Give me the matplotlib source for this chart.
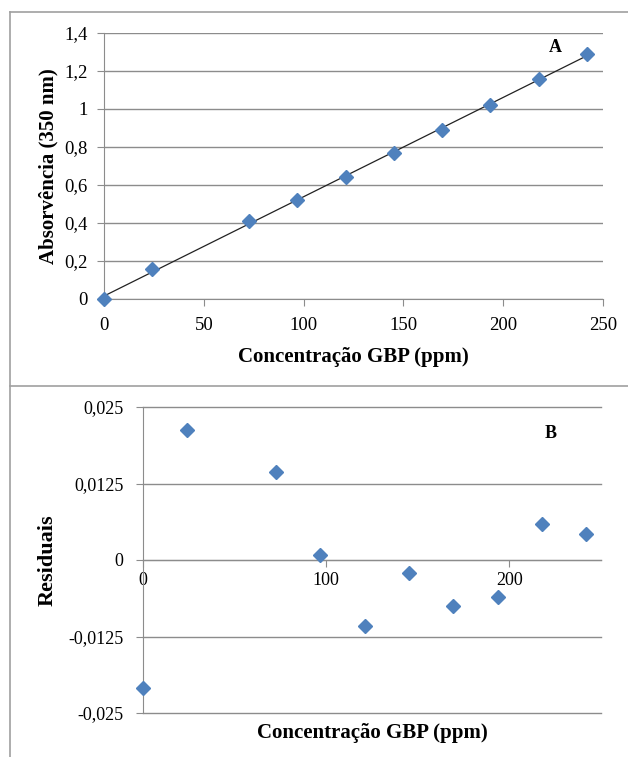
import numpy as np
import matplotlib
matplotlib.use("Agg")
import matplotlib.pyplot as plt
from matplotlib.lines import Line2D
from matplotlib.ticker import FuncFormatter

plt.rcParams["font.family"] = ["Liberation Serif", "DejaVu Serif"]

# calibration data (panel A)
concentracao = [0, 24.2, 72.6, 96.8, 121, 145.2, 169.4, 193.6, 217.8, 242]
absorvancia = [0.0, 0.16, 0.41, 0.52, 0.64, 0.77, 0.89, 1.02, 1.16, 1.29]

# residuals (panel B)
residuos = [-0.0209, 0.0213, 0.0144, 0.0008, -0.0108, -0.0021,
            -0.0075, -0.0060, 0.0059, 0.0042]

abs_ticks = [0, 0.2, 0.4, 0.6, 0.8, 1.0, 1.2, 1.4]
conc_ticks_a = [0, 50, 100, 150, 200, 250]
res_ticks = [-0.025, -0.0125, 0, 0.0125, 0.025]
res_tick_labels = ["-0,025", "-0,0125", "0", "0,0125", "0,025"]
conc_ticks_b = [0, 100, 200]

W, H = 628, 757
BLUE = "#4F81BD"
GRID = "#8c8c8c"

fig = plt.figure(figsize=(W / 100, H / 100), dpi=100)


def box(x0, y0, x1, y1):
    return [x0 / W, 1 - y1 / H, (x1 - x0) / W, (y1 - y0) / H]


def comma(v, _pos):
    return f"{v:g}".replace(".", ",")


# ---- panel A ----
ax1 = fig.add_axes(box(104, 33, 603, 299))
ax1.plot(concentracao, absorvancia, linestyle="none", marker="D",
         markersize=7, color=BLUE, zorder=4, clip_on=False)
slope, intercept = np.polyfit(concentracao, absorvancia, 1)
xs = np.array([concentracao[0], concentracao[-1]])
ax1.plot(xs, slope * xs + intercept, color="#222222", lw=0.9, zorder=3)
ax1.set_xlim(0, 250)
ax1.set_ylim(0, 1.4)
ax1.set_xticks(conc_ticks_a)
ax1.set_yticks(abs_ticks)
ax1.yaxis.set_major_formatter(FuncFormatter(comma))
ax1.grid(axis="y", color=GRID, lw=1)
ax1.set_axisbelow(True)
for side in ("top", "right"):
    ax1.spines[side].set_visible(False)
for side in ("left", "bottom"):
    ax1.spines[side].set_color(GRID)
ax1.tick_params(colors=GRID, labelcolor="black", labelsize=13.5, length=5,
                direction="out")
ax1.tick_params(axis="x", pad=8)
ax1.tick_params(axis="y", pad=7)
ax1.set_xlabel("Concentração GBP (ppm)", fontsize=15, fontweight="bold",
               labelpad=9)
ax1.set_ylabel("Absorvência (350 nm)", fontsize=15, fontweight="bold",
               labelpad=4)
ax1.text(226, 1.325, "A", fontsize=13, fontweight="bold", ha="center",
         va="center")

# ---- panel B ----
ax2 = fig.add_axes(box(143, 407, 601, 713))
ax2.plot(concentracao, residuos, linestyle="none", marker="D",
         markersize=7, color=BLUE, zorder=4, clip_on=False)
ax2.set_xlim(0, 250)
ax2.set_ylim(-0.025, 0.025)
ax2.set_yticks(res_ticks)
ax2.set_yticklabels(res_tick_labels)
ax2.set_xticks(conc_ticks_b)
ax2.grid(axis="y", color=GRID, lw=1)
for gl in ax2.get_ygridlines():
    gl.set_clip_on(False)
ax2.set_axisbelow(True)
for side in ("top", "right"):
    ax2.spines[side].set_visible(False)
ax2.spines["bottom"].set_position(("data", 0))
ax2.spines["bottom"].set_color(GRID)
ax2.spines["left"].set_color(GRID)
ax2.tick_params(colors=GRID, labelcolor="black", labelsize=13, length=5,
                direction="out")
ax2.tick_params(axis="y", pad=9)
ax2.set_ylabel("Residuais", fontsize=16, fontweight="bold", labelpad=8)
ax2.text(0.5, -0.065, "Concentração GBP (ppm)", transform=ax2.transAxes,
         fontsize=15, fontweight="bold", ha="center", va="center")
ax2.text(222.6, 0.0207, "B", fontsize=13, fontweight="bold", ha="center",
         va="center")

# ---- frame lines ----
frame = dict(color="#a0a0a0", lw=1.2, transform=fig.transFigure)
fig.add_artist(Line2D([10 / W, 10 / W], [0, 1 - 12 / H], **frame))
fig.add_artist(Line2D([10 / W, 1], [1 - 12 / H, 1 - 12 / H], **frame))
fig.add_artist(Line2D([10 / W, 1], [1 - 386 / H, 1 - 386 / H], **frame))

fig.savefig("out.png", dpi=100)
